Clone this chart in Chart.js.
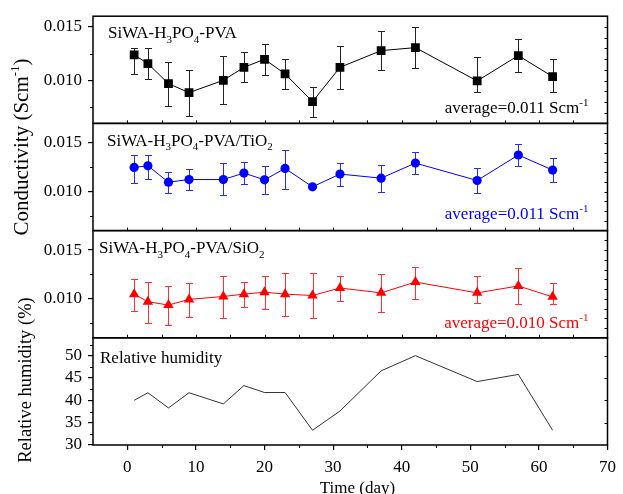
<!DOCTYPE html>
<html><head><meta charset="utf-8">
<script src="https://cdn.jsdelivr.net/npm/chart.js@4.4.1/dist/chart.umd.min.js"></script>
<style>html,body{margin:0;padding:0;background:#fff;overflow:hidden}canvas{display:block}</style>
</head><body>
<canvas id="c" width="623" height="494"></canvas>
<script>
// ---- data ----
const days = [1, 3, 6, 9, 14, 17, 20, 23, 27, 31, 37, 42, 51, 57, 62];

const pvaValues = [0.01239, 0.01158, 0.00971, 0.00887, 0.01002, 0.01123, 0.01198, 0.01062, 0.00803, 0.01123, 0.01279, 0.01307, 0.00996, 0.01233, 0.01036];
const pvaErrHigh = [0.01307, 0.01301, 0.01170, 0.01095, 0.01226, 0.01264, 0.01338, 0.01198, 0.00940, 0.01323, 0.01460, 0.01497, 0.01217, 0.01385, 0.01198];
const pvaErrLow  = [0.01064, 0.01015, 0.00765, 0.00672, 0.00778, 0.00987, 0.01052, 0.00918, 0.00660, 0.00921, 0.01095, 0.01114, 0.00890, 0.01083, 0.00890];

const tioValues = [0.01248, 0.01265, 0.01097, 0.01124, 0.01124, 0.01190, 0.01121, 0.01238, 0.01049, 0.01180, 0.01138, 0.01293, 0.01114, 0.01376, 0.01221];
const tioErrHigh = [0.01376, 0.01376, 0.01204, 0.01231, 0.01289, 0.01300, 0.01258, 0.01431, null, 0.01289, 0.01273, 0.01403, 0.01238, 0.01486, 0.01341];
const tioErrLow  = [0.01093, 0.01128, 0.00987, 0.01014, 0.00963, 0.01080, 0.00976, 0.01031, null, 0.01062, 0.00997, 0.01183, 0.00987, 0.01265, 0.01100];

const sioValues = [0.01048, 0.00970, 0.00936, 0.00994, 0.01024, 0.01048, 0.01068, 0.01048, 0.01034, 0.01111, 0.01061, 0.01172, 0.01061, 0.01132, 0.01020];
const sioErrHigh = [0.01202, 0.01169, 0.01128, 0.01162, 0.01230, 0.01176, 0.01230, 0.01263, 0.01263, 0.01237, 0.01257, 0.01331, 0.01237, 0.01314, 0.01166];
const sioErrLow  = [0.00876, 0.00754, 0.00727, 0.00812, 0.00808, 0.00913, 0.00896, 0.00828, 0.00800, 0.00974, 0.00865, 0.00997, 0.00953, 0.00946, 0.00946];

const humidity = [40.0, 41.7, 38.3, 41.7, 39.2, 43.3, 41.75, 41.75, 33.3, 37.6, 46.6, 50.0, 44.2, 45.8, 33.3];

const xTicks = [0, 10, 20, 30, 40, 50, 60, 70];
const condTicks = [0.010, 0.015];
const rhTicks = [30, 35, 40, 45, 50];

const panelTitles = [
  [['SiWA-H', 0], ['3', -1], ['PO', 0], ['4', -1], ['-PVA', 0]],
  [['SiWA-H', 0], ['3', -1], ['PO', 0], ['4', -1], ['-PVA/TiO', 0], ['2', -1]],
  [['SiWA-H', 0], ['3', -1], ['PO', 0], ['4', -1], ['-PVA/SiO', 0], ['2', -1]],
  [['Relative humidity', 0]]
];
const averageLabels = [
  [['average=0.011 Scm', 0], ['-1', 1]],
  [['average=0.011 Scm', 0], ['-1', 1]],
  [['average=0.010 Scm', 0], ['-1', 1]]
];
const condTitle = [['Conductivity (Scm', 0], ['-1', 1], [')', 0]];
const rhTitle = [['Relative humidity (%)', 0]];
const xTitle = [['Time (day)', 0]];

// ---- styling ----
const FONT = 'Liberation Serif';
const FS = 17;
const COLORS = ['#000000', '#0000ff', '#ff0000'];
const ERRCOLORS = ['#222222', '#2a2aff', '#ff3030'];

function richWidth(ctx, parts, size) {
  let w = 0;
  for (const [t, m] of parts) {
    ctx.font = (m ? Math.round(size * 0.62) : size) + 'px "' + FONT + '"';
    w += ctx.measureText(t).width;
  }
  return w;
}
function drawRich(ctx, parts, x, y, size, color) {
  ctx.fillStyle = color;
  ctx.textBaseline = 'alphabetic';
  ctx.textAlign = 'left';
  for (const [t, m] of parts) {
    const s = m ? Math.round(size * 0.62) : size;
    ctx.font = s + 'px "' + FONT + '"';
    const dy = m === -1 ? size * 0.26 : (m === 1 ? -size * 0.40 : 0);
    ctx.fillText(t, x, y + dy);
    x += ctx.measureText(t).width;
  }
}

const decor = {
  id: 'decor',
  beforeDatasetDraw(chart, args) {
    const ds = chart.data.datasets[args.index];
    if (!ds.errHigh) return;
    const ctx = chart.ctx;
    const ys = chart.scales[ds.yAxisID];
    ctx.save();
    ctx.strokeStyle = ds.errColor;
    ctx.lineWidth = 1;
    args.meta.data.forEach((pt, i) => {
      const hi = ds.errHigh[i], lo = ds.errLow[i];
      if (hi == null || lo == null) return;
      const x = Math.round(pt.x) + 0.5;
      const yh = Math.round(ys.getPixelForValue(hi)) + 0.5;
      const yl = Math.round(ys.getPixelForValue(lo)) + 0.5;
      ctx.beginPath();
      ctx.moveTo(x, yh); ctx.lineTo(x, yl);
      ctx.moveTo(x - 3.5, yh); ctx.lineTo(x + 3.5, yh);
      ctx.moveTo(x - 3.5, yl); ctx.lineTo(x + 3.5, yl);
      ctx.stroke();
    });
    ctx.restore();
  },
  afterDraw(chart) {
    const ctx = chart.ctx;
    const a = chart.chartArea;
    const xs = chart.scales.x;
    const ids = ['y1', 'y2', 'y3', 'y4'];
    ctx.save();
    ctx.strokeStyle = '#000';
    // minor / mirror ticks
    ctx.lineWidth = 1;
    ctx.beginPath();
    ids.forEach((id, k) => {
      const s = chart.scales[id];
      const cond = k < 3;
      const minorStep = cond ? 0.0025 : 2.5;
      const majorStep = cond ? 0.005 : 5;
      const rightStep = cond ? 0.001 : 5;
      for (let v = Math.ceil(s.min / minorStep - 1e-6) * minorStep; v <= s.max + 1e-9; v += minorStep) {
        if (Math.abs(v / majorStep - Math.round(v / majorStep)) < 1e-6) continue;
        const y = Math.round(s.getPixelForValue(v)) + 0.5;
        ctx.moveTo(a.left, y); ctx.lineTo(a.left - 3, y);
      }
      for (let v = Math.ceil(s.min / rightStep - 1e-6) * rightStep; v <= s.max + 1e-9; v += rightStep) {
        const y = Math.round(s.getPixelForValue(v)) + 0.5;
        if (y < s.top + 2 || y > s.bottom - 2) continue;
        ctx.moveTo(a.right, y); ctx.lineTo(a.right - 3, y);
      }
      if (k < 3) {
        for (let v = 0; v <= 65; v += 5) {
          const x = Math.round(xs.getPixelForValue(v)) + 0.5;
          ctx.moveTo(x, s.bottom); ctx.lineTo(x, s.bottom - 3);
        }
      }
    });
    for (let v = 5; v <= 65; v += 10) {
      const x = Math.round(xs.getPixelForValue(v)) + 0.5;
      ctx.moveTo(x, a.bottom); ctx.lineTo(x, a.bottom + 3);
    }
    ctx.stroke();
    // frames
    ctx.lineWidth = 1.5;
    ids.forEach(id => {
      const s = chart.scales[id];
      ctx.strokeRect(a.left, s.top, a.right - a.left, s.bottom - s.top);
    });
    ctx.restore();

    // panel titles
    const titleOffsets = [[15, 22], [14, 22.5], [6, 22.5], [7, 25.5]];
    ids.forEach((id, k) => {
      const s = chart.scales[id];
      drawRich(ctx, panelTitles[k], a.left + titleOffsets[k][0], s.top + titleOffsets[k][1], FS, '#000');
    });
    // averages
    const avgOffsets = [10.8, 11.7, 10.2];
    averageLabels.forEach((parts, k) => {
      const s = chart.scales[ids[k]];
      const w = richWidth(ctx, parts, FS);
      drawRich(ctx, parts, a.right - 19 - w, s.bottom - avgOffsets[k], FS, COLORS[k]);
    });
    // axis titles
    const CFS = 21, RFS = 18.5;
    ctx.save();
    ctx.translate(27.5, 147);
    ctx.rotate(-Math.PI / 2);
    let w = richWidth(ctx, condTitle, CFS);
    drawRich(ctx, condTitle, -w / 2, 0, CFS, '#000');
    ctx.restore();
    ctx.save();
    ctx.translate(30.5, 380);
    ctx.rotate(-Math.PI / 2);
    w = richWidth(ctx, rhTitle, RFS);
    drawRich(ctx, rhTitle, -w / 2, 0, RFS, '#000');
    ctx.restore();
    w = richWidth(ctx, xTitle, FS);
    drawRich(ctx, xTitle, 357.5 - w / 2, 493, FS, '#000');
  }
};

function yAxis(min, max, tickVals, fmt) {
  return {
    type: 'linear', position: 'left', stack: 'panels', stackWeight: 1,
    min: min, max: max,
    afterBuildTicks: s => { s.ticks = tickVals.map(v => ({ value: v })); },
    afterFit: s => { s.width = 93; },
    ticks: { callback: fmt, padding: 6, autoSkip: false, color: '#000', font: { family: FONT, size: FS } },
    grid: { display: true, drawOnChartArea: false, drawTicks: true, tickLength: 5, color: '#000', lineWidth: 1.2 },
    border: { display: false }
  };
}
const condFmt = v => v.toFixed(3);
const rhFmt = v => String(v);

function pts(vals) { return days.map((d, i) => ({ x: d, y: vals[i] })); }

new Chart(document.getElementById('c'), {
  type: 'line',
  data: {
    datasets: [
      { label: 'SiWA-H3PO4-PVA', data: pts(pvaValues), yAxisID: 'y1', borderColor: COLORS[0], backgroundColor: COLORS[0], borderWidth: 1,
        pointStyle: 'rect', pointRadius: 6.2, pointBorderWidth: 0, errHigh: pvaErrHigh, errLow: pvaErrLow, errColor: ERRCOLORS[0] },
      { label: 'SiWA-H3PO4-PVA/TiO2', data: pts(tioValues), yAxisID: 'y2', borderColor: COLORS[1], backgroundColor: COLORS[1], borderWidth: 1,
        pointStyle: 'circle', pointRadius: 4.6, pointBorderWidth: 0, errHigh: tioErrHigh, errLow: tioErrLow, errColor: ERRCOLORS[1] },
      { label: 'SiWA-H3PO4-PVA/SiO2', data: pts(sioValues), yAxisID: 'y3', borderColor: COLORS[2], backgroundColor: COLORS[2], borderWidth: 1,
        pointStyle: 'triangle', pointRadius: 6, pointBorderWidth: 0, errHigh: sioErrHigh, errLow: sioErrLow, errColor: ERRCOLORS[2] },
      { label: 'Relative humidity', data: pts(humidity), yAxisID: 'y4', borderColor: '#333333', borderWidth: 1, pointRadius: 0 }
    ]
  },
  options: {
    responsive: false,
    animation: false,
    events: [],
    layout: { padding: { top: 15, right: 10, left: 0, bottom: 0 } },
    plugins: { legend: { display: false }, tooltip: { enabled: false } },
    elements: { line: { tension: 0 } },
    scales: {
      x: {
        type: 'linear', position: 'bottom', min: -5, max: 70,
        afterBuildTicks: s => { s.ticks = xTicks.map(v => ({ value: v })); },
        afterFit: s => { s.height = 49; },
        ticks: { padding: 7, autoSkip: false, color: '#000', font: { family: FONT, size: FS }, maxRotation: 0 },
        grid: { display: true, drawOnChartArea: false, drawTicks: true, tickLength: 5, color: '#000', lineWidth: 1.2 },
        border: { display: false }
      },
      // stacked panels: first listed is placed at the bottom
      y4: yAxis(30, 54, rhTicks, rhFmt),
      y3: yAxis(0.006, 0.017, condTicks, condFmt),
      y2: yAxis(0.006, 0.017, condTicks, condFmt),
      y1: yAxis(0.006, 0.016, condTicks, condFmt)
    }
  },
  plugins: [decor]
});
</script>
</body></html>
